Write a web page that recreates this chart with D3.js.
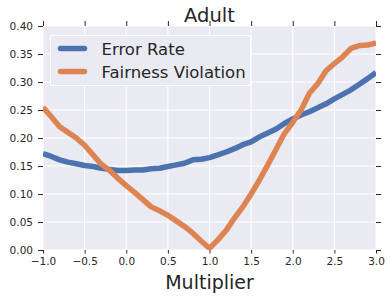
<!DOCTYPE html>
<html>
<head>
<meta charset="utf-8">
<script src="https://cdn.jsdelivr.net/npm/d3@7"></script>
<style>
  body { margin: 0; background: #fff; }
  svg { display: block; font-family: "DejaVu Sans", sans-serif; }
</style>
</head>
<body>
<div id="chart"></div>
<script>
// multiplier values (x)
const multipliers = d3.range(41).map(i => Math.round((-1 + i * 0.1) * 10) / 10);

const errorRate = [
  0.172, 0.167, 0.161, 0.157, 0.154, 0.151, 0.149, 0.146, 0.144, 0.142,
  0.142, 0.143, 0.143, 0.145, 0.146, 0.149, 0.152, 0.155, 0.161, 0.162,
  0.165, 0.170, 0.175, 0.181, 0.188, 0.193, 0.202, 0.209, 0.216, 0.226,
  0.234, 0.241, 0.247, 0.254, 0.261, 0.270, 0.278, 0.286, 0.296, 0.306,
  0.317
];

const fairnessViolation = [
  0.255, 0.238, 0.220, 0.210, 0.200, 0.187, 0.170, 0.153, 0.142, 0.128,
  0.115, 0.103, 0.090, 0.077, 0.070, 0.062, 0.052, 0.042, 0.030, 0.016,
  0.003, 0.018, 0.035, 0.057, 0.077, 0.100, 0.125, 0.152, 0.180, 0.208,
  0.228, 0.250, 0.280, 0.297, 0.320, 0.333, 0.345, 0.360, 0.365, 0.366,
  0.370
];

const seriesNames = ["Error Rate", "Fairness Violation"];
const seriesColors = ["#4c72b0", "#dd8452"];
const xTicks = [-1.0, -0.5, 0.0, 0.5, 1.0, 1.5, 2.0, 2.5, 3.0];
const yTicks = [0, 0.05, 0.10, 0.15, 0.20, 0.25, 0.30, 0.35, 0.40];

const width = 392, height = 300;
const margin = { top: 26, right: 16, bottom: 50, left: 43 };

const svg = d3.select("#chart").append("svg")
    .attr("width", width)
    .attr("height", height);

const x = d3.scaleLinear().domain([-1, 3]).range([margin.left, width - margin.right]);
const y = d3.scaleLinear().domain([0, 0.4]).range([height - margin.bottom, margin.top]);

// background
svg.append("rect")
    .attr("x", x(-1)).attr("y", y(0.4))
    .attr("width", x(3) - x(-1)).attr("height", y(0) - y(0.4))
    .attr("fill", "#eaeaf2");

// grid
svg.append("g").selectAll("line").data(xTicks).enter().append("line")
    .attr("x1", d => x(d)).attr("x2", d => x(d))
    .attr("y1", y(0)).attr("y2", y(0.4))
    .attr("stroke", "#fff").attr("stroke-width", 1.1);
svg.append("g").selectAll("line").data(yTicks).enter().append("line")
    .attr("x1", x(-1)).attr("x2", x(3))
    .attr("y1", d => y(d)).attr("y2", d => y(d))
    .attr("stroke", "#fff").attr("stroke-width", 1.1);

// axes
function styleAxis(g) {
    g.select(".domain").remove();
    g.selectAll(".tick line").attr("stroke", "#262626").attr("stroke-width", 1);
    g.selectAll(".tick text").attr("fill", "#262626").attr("font-size", "10.5px")
        .attr("font-family", "DejaVu Sans, sans-serif");
}

svg.append("g")
    .attr("transform", `translate(0,${y(0)})`)
    .call(d3.axisBottom(x).tickValues(xTicks).tickSize(3.5).tickPadding(4)
        .tickFormat(d => d3.format(".1f")(d).replace("-", "\u2212")))
    .call(styleAxis);

svg.append("g")
    .attr("transform", `translate(${x(-1)},0)`)
    .call(d3.axisLeft(y).tickValues(yTicks).tickSize(5).tickPadding(5).tickFormat(d3.format(".2f")))
    .call(styleAxis);

svg.append("g")
    .attr("transform", `translate(0,${y(0.4)})`)
    .call(d3.axisTop(x).tickValues(xTicks).tickSize(5).tickFormat(""))
    .call(styleAxis);

svg.append("g")
    .attr("transform", `translate(${x(3)},0)`)
    .call(d3.axisRight(y).tickValues(yTicks).tickSize(5).tickFormat(""))
    .call(styleAxis);

// lines
const series = [errorRate, fairnessViolation];
const line = d3.line()
    .x((d, i) => x(multipliers[i]))
    .y(d => y(d));

svg.append("clipPath").attr("id", "clip").append("rect")
    .attr("x", x(-1)).attr("y", y(0.4))
    .attr("width", x(3) - x(-1)).attr("height", y(0) - y(0.4));

svg.append("g").attr("clip-path", "url(#clip)")
    .selectAll("path").data(series).enter().append("path")
    .attr("d", line)
    .attr("fill", "none")
    .attr("stroke", (d, i) => seriesColors[i])
    .attr("stroke-width", 5.5)
    .attr("stroke-linejoin", "round");

// legend
const legend = svg.append("g").attr("transform", "translate(50.5,35.5)");
legend.append("rect")
    .attr("width", 200).attr("height", 50)
    .attr("fill", "#eaeaf2").attr("stroke", "#fff").attr("stroke-width", 1);
seriesNames.forEach((name, i) => {
    const cy = 13 + i * 23;
    legend.append("line")
        .attr("x1", 10).attr("x2", 34)
        .attr("y1", cy).attr("y2", cy)
        .attr("stroke", seriesColors[i]).attr("stroke-width", 5.5)
        .attr("stroke-linecap", "round");
    legend.append("text")
        .attr("x", 51).attr("y", cy + 6)
        .attr("font-size", "16.5px").attr("fill", "#262626")
        .text(name);
});

// title and label
svg.append("text")
    .attr("x", (x(-1) + x(3)) / 2).attr("y", 21.5)
    .attr("text-anchor", "middle").attr("font-size", "19.5px").attr("fill", "#262626")
    .text("Adult");

svg.append("text")
    .attr("x", (x(-1) + x(3)) / 2).attr("y", 289)
    .attr("text-anchor", "middle").attr("font-size", "19px").attr("fill", "#262626")
    .text("Multiplier");
</script>
</body>
</html>
